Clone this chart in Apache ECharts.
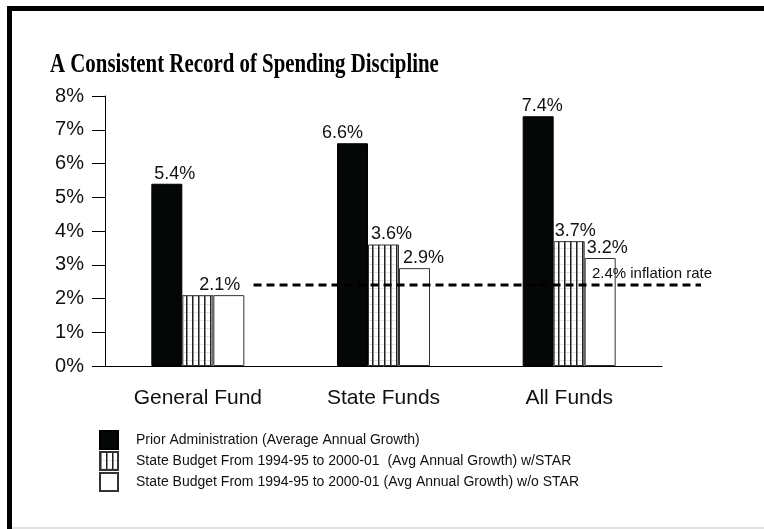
<!DOCTYPE html>
<html>
<head>
<meta charset="utf-8">
<script src="https://cdn.jsdelivr.net/npm/echarts@6/dist/echarts.min.js"></script>
<style>
  html, body { margin: 0; padding: 0; background: #fff; }
  #chart { width: 764px; height: 529px; }
</style>
</head>
<body>
<div id="chart"></div>
<script>
// Fund groups along the x axis
const categories = ['General Fund', 'State Funds', 'All Funds'];

// Average annual growth, percent
const priorAdmin = [5.4, 6.6, 7.4];
const withStar = [2.1, 3.6, 3.7];
const withoutStar = [2.1, 2.9, 3.2];

const seriesNames = [
  'Prior Administration (Average Annual Growth)',
  'State Budget From 1994-95 to 2000-01  (Avg Annual Growth) w/STAR',
  'State Budget From 1994-95 to 2000-01 (Avg Annual Growth) w/o STAR'
];

// Inflation reference line: rate and horizontal span in category units
const inflationRate = 2.4;
const inflationSpan = [0.3, 2.71];

const yTicks = { min: 0, max: 8, interval: 1 };

// Layout: plot area and the horizontal nudge of each value label (px)
const plot = { left: 105, top: 96, width: 557, height: 270 };
const unitPx = plot.width / categories.length;
const labelNudge = {
  prior: [3, -15, -1],
  withStar: [17, 3, 1],
  withoutStar: [0, 4, 2]
};

// Vertical hatch fill for the "w/STAR" bars
function makeHatch() {
  const c = document.createElement('canvas');
  c.width = 6; c.height = 8;
  const ctx = c.getContext('2d');
  ctx.fillStyle = '#ffffff';
  ctx.fillRect(0, 0, 6, 8);
  ctx.fillStyle = '#e2e2e2';
  ctx.fillRect(0, 0, 6, 1);
  ctx.fillStyle = '#222222';
  ctx.fillRect(0, 0, 1, 8);
  ctx.fillStyle = '#8a8a8a';
  ctx.fillRect(1, 0, 1, 8);
  return c;
}
const hatch = { image: makeHatch(), repeat: 'repeat' };

const valueLabel = {
  show: true,
  position: [0, -1],
  align: 'left',
  verticalAlign: 'bottom',
  fontFamily: 'Liberation Sans, Arial, sans-serif',
  fontSize: 18,
  color: '#111',
  formatter: p => p.value + '%'
};

function withLabels(values, nudges, hidden) {
  return values.map((v, i) => ({
    value: v,
    label: hidden && hidden[i] ? { show: false } : { position: [nudges[i], -1] }
  }));
}

// The dashed inflation line lives on a wider twin grid sharing the same
// vertical scale and the same px-per-category unit, so it can run past the axis.
const lineGridWidth = unitPx * 3.3;

const chart = echarts.init(document.getElementById('chart'), null, { renderer: 'canvas' });

chart.setOption({
  animation: false,
  backgroundColor: '#ffffff',
  textStyle: { fontFamily: 'Liberation Sans, Arial, sans-serif', color: '#111' },
  graphic: [
    { type: 'rect', shape: { x: 7, y: 6, width: 757, height: 5 }, style: { fill: '#000' }, silent: true },
    { type: 'rect', shape: { x: 7, y: 6, width: 5, height: 523 }, style: { fill: '#000' }, silent: true },
    { type: 'rect', shape: { x: 12, y: 527, width: 752, height: 2 }, style: { fill: '#e2e2e2' }, silent: true },
    {
      type: 'text', left: 50, top: 51, scaleX: 0.745,
      style: {
        text: 'A Consistent Record of Spending Discipline',
        font: 'bold 28px "Liberation Serif", "Times New Roman", serif',
        fill: '#000'
      }
    }
  ],
  grid: [
    { left: plot.left, top: plot.top, width: plot.width, height: plot.height, containLabel: false },
    { left: plot.left, top: plot.top, width: lineGridWidth, height: plot.height, containLabel: false }
  ],
  legend: {
    data: seriesNames,
    orient: 'vertical',
    left: 99,
    top: 430,
    padding: 0,
    itemWidth: 18,
    itemHeight: 18,
    itemGap: 1,
    icon: 'rect',
    selectedMode: false,
    textStyle: { fontSize: 14, color: '#111', padding: [0, 0, 0, 13], fontFamily: 'Liberation Sans, Arial, sans-serif' }
  },
  xAxis: [
    {
      type: 'category',
      gridIndex: 0,
      data: categories,
      axisLine: { lineStyle: { color: '#000', width: 1 } },
      axisTick: { alignWithLabel: true, length: 12, lineStyle: { color: '#000' } },
      axisLabel: { fontSize: 21, color: '#111', margin: 22 },
      splitLine: { show: false }
    },
    {
      type: 'value',
      gridIndex: 1,
      min: -0.5,
      max: 2.8,
      show: false,
      splitLine: { show: false }
    }
  ],
  yAxis: [
    {
      type: 'value',
      gridIndex: 0,
      min: yTicks.min,
      max: yTicks.max,
      interval: yTicks.interval,
      axisLine: { show: true, onZero: false, lineStyle: { color: '#000', width: 1 } },
      axisTick: { show: true, length: 13, lineStyle: { color: '#000' } },
      axisLabel: { fontSize: 20, color: '#111', margin: 21, formatter: '{value}%' },
      splitLine: { show: false }
    },
    {
      type: 'value',
      gridIndex: 1,
      min: yTicks.min,
      max: yTicks.max,
      interval: yTicks.interval,
      show: false,
      splitLine: { show: false }
    }
  ],
  series: [
    {
      name: seriesNames[0],
      type: 'bar',
      data: withLabels(priorAdmin, labelNudge.prior),
      barWidth: 31,
      barGap: '0%',
      itemStyle: { color: '#050707', borderColor: '#000', borderWidth: 1 },
      label: valueLabel
    },
    {
      name: seriesNames[1],
      type: 'bar',
      data: withLabels(withStar, labelNudge.withStar),
      barWidth: 31,
      barGap: '0%',
      itemStyle: { color: hatch, borderColor: '#333', borderWidth: 1 },
      label: valueLabel
    },
    {
      name: seriesNames[2],
      type: 'bar',
      // the shared 2.1% label of the first group sits on the hatched bar
      data: withLabels(withoutStar, labelNudge.withoutStar, [true, false, false]),
      barWidth: 31,
      barGap: '0%',
      itemStyle: { color: '#ffffff', borderColor: '#333', borderWidth: 1 },
      label: valueLabel
    },
    {
      name: 'inflation',
      type: 'line',
      xAxisIndex: 1,
      yAxisIndex: 1,
      z: 5,
      symbol: 'rect',
      symbolSize: 0,
      showSymbol: true,
      lineStyle: { color: '#000', width: 3, type: [8, 5] },
      data: [
        { value: [inflationSpan[0], inflationRate] },
        {
          value: [inflationSpan[1], inflationRate],
          label: {
            show: true,
            position: 'top',
            align: 'right',
            distance: 4,
            offset: [11, 0],
            fontSize: 15,
            color: '#111',
            formatter: inflationRate + '% inflation rate'
          }
        }
      ]
    }
  ]
});
</script>
</body>
</html>
